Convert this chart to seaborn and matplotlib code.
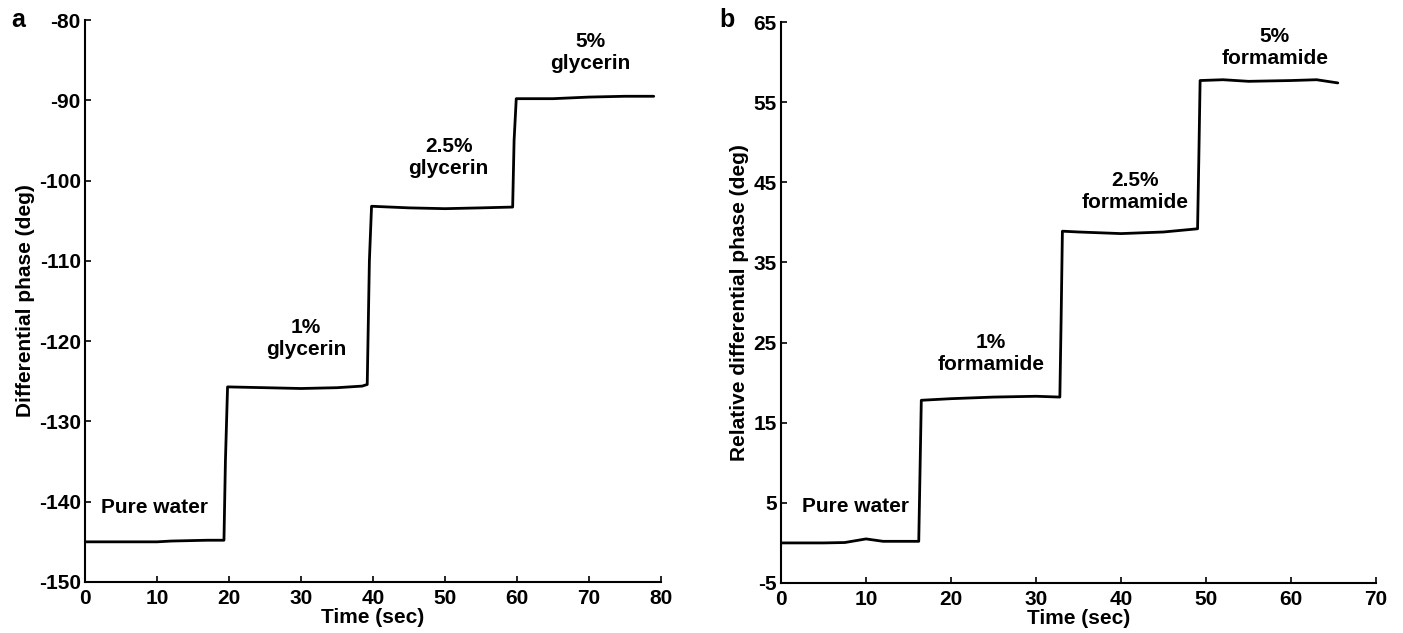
import matplotlib
matplotlib.use("Agg")
import matplotlib.pyplot as plt
import seaborn as sns
import pandas as pd

# ---- data ----
time_a = [0, 5, 10, 12, 17, 19.3, 19.5, 19.8, 25, 30, 35, 38.5, 39.2, 39.5, 39.8,
          45, 50, 55, 59.4, 59.6, 59.9, 65, 70, 75, 79]
phase_a = [-145.0, -145.0, -145.0, -144.9, -144.8, -144.8, -135.0, -125.7, -125.8, -125.9,
           -125.8, -125.6, -125.4, -110.0, -103.2, -103.4, -103.5, -103.4, -103.3, -95.0,
           -89.8, -89.8, -89.6, -89.5, -89.5]

time_b = [0, 5, 7.5, 10, 12, 16.2, 16.35, 16.5, 20, 25, 30, 32.8, 32.95, 33.1, 35,
          40, 45, 49.0, 49.15, 49.3, 52, 55, 60, 63, 65.5]
phase_b = [0.0, 0.0, 0.05, 0.5, 0.2, 0.2, 9.0, 17.8, 18.0, 18.2, 18.3, 18.2, 28.0, 38.9,
           38.8, 38.6, 38.8, 39.2, 48.0, 57.7, 57.8, 57.6, 57.7, 57.8, 57.4]

labels_a = ["Pure water", "1%\nglycerin", "2.5%\nglycerin", "5%\nglycerin"]
labels_b = ["Pure water", "1%\nformamide", "2.5%\nformamide", "5%\nformamide"]

xticks_a = [0, 10, 20, 30, 40, 50, 60, 70, 80]
yticks_a = [-150, -140, -130, -120, -110, -100, -90, -80]
xticks_b = [0, 10, 20, 30, 40, 50, 60, 70]
yticks_b = [-5, 5, 15, 25, 35, 45, 55, 65]

# ---- style ----
sns.set_style("ticks")
plt.rcParams["font.family"] = ["Liberation Sans", "DejaVu Sans"]
plt.rcParams["font.weight"] = "bold"
plt.rcParams["axes.labelweight"] = "bold"
plt.rcParams["axes.unicode_minus"] = False
plt.rcParams["text.color"] = "black"
plt.rcParams["axes.labelcolor"] = "black"
plt.rcParams["xtick.direction"] = "in"
plt.rcParams["ytick.direction"] = "in"

fig = plt.figure(figsize=(14.03, 6.33), dpi=100)
ax1 = fig.add_axes([0.0606, 0.0806, 0.4105, 0.8878])
ax2 = fig.add_axes([0.5567, 0.079, 0.4241, 0.8862])

df_a = pd.DataFrame({"t": time_a, "p": phase_a})
df_b = pd.DataFrame({"t": time_b, "p": phase_b})

sns.lineplot(data=df_a, x="t", y="p", sort=False, estimator=None, color="black",
             linewidth=2, ax=ax1)
sns.lineplot(data=df_b, x="t", y="p", sort=False, estimator=None, color="black",
             linewidth=2, ax=ax2)

txt_a = [(9.7, -140.7), (30.7, -119.7), (50.5, -97.1), (70.2, -84.0)]
txt_b = [(8.7, 4.5), (24.7, 23.6), (41.6, 43.8), (58.1, 61.8)]

for (x, y), s in zip(txt_a, labels_a):
    ax1.text(x, y, s, ha="center", va="center", fontsize=15, fontweight="bold",
             linespacing=1.2, color="black")
for (x, y), s in zip(txt_b, labels_b):
    ax2.text(x, y, s, ha="center", va="center", fontsize=15, fontweight="bold",
             linespacing=1.2, color="black")

for ax, xt, yt, yl in [(ax1, xticks_a, yticks_a, "Differential phase (deg)"),
                       (ax2, xticks_b, yticks_b, "Relative differential phase (deg)")]:
    ax.set_xlim(xt[0], xt[-1])
    ax.set_ylim(yt[0], yt[-1])
    ax.set_xticks(xt)
    ax.set_yticks(yt)
    ax.set_xlabel("Time (sec)", fontsize=15, fontweight="bold", labelpad=0)
    ax.set_ylabel(yl, fontsize=15, fontweight="bold", labelpad=3)
    ax.tick_params(labelsize=15, length=4, width=1.2, colors="black")
    ax.tick_params(axis="x", pad=5)
    ax.tick_params(axis="y", pad=3)
    for lab in ax.get_xticklabels() + ax.get_yticklabels():
        lab.set_fontweight("bold")
    sns.despine(ax=ax)
    for sp in ["left", "bottom"]:
        ax.spines[sp].set_linewidth(1.5)
        ax.spines[sp].set_color("black")

fig.text(18 / 1403, 1 - 20 / 633, "a", fontsize=18, fontweight="bold", va="center", ha="center")
fig.text(727 / 1403, 1 - 20 / 633, "b", fontsize=18, fontweight="bold", va="center", ha="center")

fig.savefig("out.png", dpi=100, facecolor="white")
